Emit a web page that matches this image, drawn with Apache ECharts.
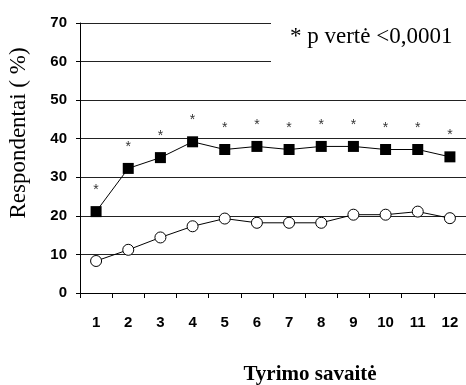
<!DOCTYPE html>
<html><head><meta charset="utf-8">
<script src="https://cdn.jsdelivr.net/npm/echarts@6/dist/echarts.min.js"></script>
<style>html,body{margin:0;padding:0;background:#fff}#c{width:466px;height:385px}</style>
</head><body><div id="c"></div>
<script>
var weeks = ['1','2','3','4','5','6','7','8','9','10','11','12'];
var seriesSquares = [21.1, 32.3, 35.1, 39.2, 37.2, 38, 37.2, 38, 38, 37.2, 37.2, 35.3];
var seriesCircles = [8.3, 11.2, 14.4, 17.3, 19.3, 18.2, 18.2, 18.2, 20.3, 20.3, 21.1, 19.4];
var yTicks = [0, 10, 20, 30, 40, 50, 60, 70];
var yTitle = 'Respondentai ( %)';
var xTitle = 'Tyrimo savaitė';
var note = '* p vertė <0,0001';

var chart = echarts.init(document.getElementById('c'));
chart.setOption({
  animation: false,
  backgroundColor: '#fff',
  grid: {left: 80, right: 0, top: 23, bottom: 92},
  xAxis: {
    type: 'category', data: weeks, boundaryGap: true,
    axisLine: {lineStyle: {color: '#000', width: 1}},
    axisTick: {show: true, length: 5, lineStyle: {color: '#000'}},
    axisLabel: {color: '#000', fontFamily: 'Liberation Sans', fontWeight: 'bold', fontSize: 15, margin: 22}
  },
  yAxis: {
    type: 'value', min: yTicks[0], max: yTicks[yTicks.length-1], interval: 10,
    axisLine: {show: true, lineStyle: {color: '#000', width: 1}},
    axisTick: {show: true, length: 4, lineStyle: {color: '#000'}},
    splitLine: {show: true, lineStyle: {color: '#222', width: 1}},
    axisLabel: {color: '#000', fontFamily: 'Liberation Sans', fontWeight: 'bold', fontSize: 15, margin: 13}
  },
  graphic: [
    {type: 'rect', z: 10, shape: {x: 271, y: 10, width: 200, height: 60}, style: {fill: '#fff'}},
    {type: 'text', z: 11, x: 290, y: 37, style: {text: note, fontFamily: 'Liberation Serif', fontSize: 23, fill: '#000', verticalAlign: 'middle'}},
    {type: 'text', z: 11, x: 310, y: 375, style: {text: xTitle, fontFamily: 'Liberation Serif', fontWeight: 'bold', fontSize: 21, fill: '#000', align: 'center', verticalAlign: 'middle'}},
    {type: 'text', z: 11, x: 19, y: 133, rotation: Math.PI/2,
     style: {text: yTitle, fontFamily: 'Liberation Serif', fontSize: 23, fill: '#000', align: 'center', verticalAlign: 'middle'}}
  ],
  series: [
    {type: 'line', data: seriesSquares, symbol: 'rect', symbolSize: 11,
     lineStyle: {color: '#000', width: 1}, itemStyle: {color: '#000'},
     label: {show: true, position: 'top', distance: 9, formatter: '*', color: '#333', fontFamily: 'Liberation Sans', fontSize: 14}},
    {type: 'line', data: seriesCircles, symbol: 'circle', symbolSize: 11,
     lineStyle: {color: '#000', width: 1}, itemStyle: {color: '#fff', borderColor: '#000', borderWidth: 1}}
  ]
});
</script></body></html>
